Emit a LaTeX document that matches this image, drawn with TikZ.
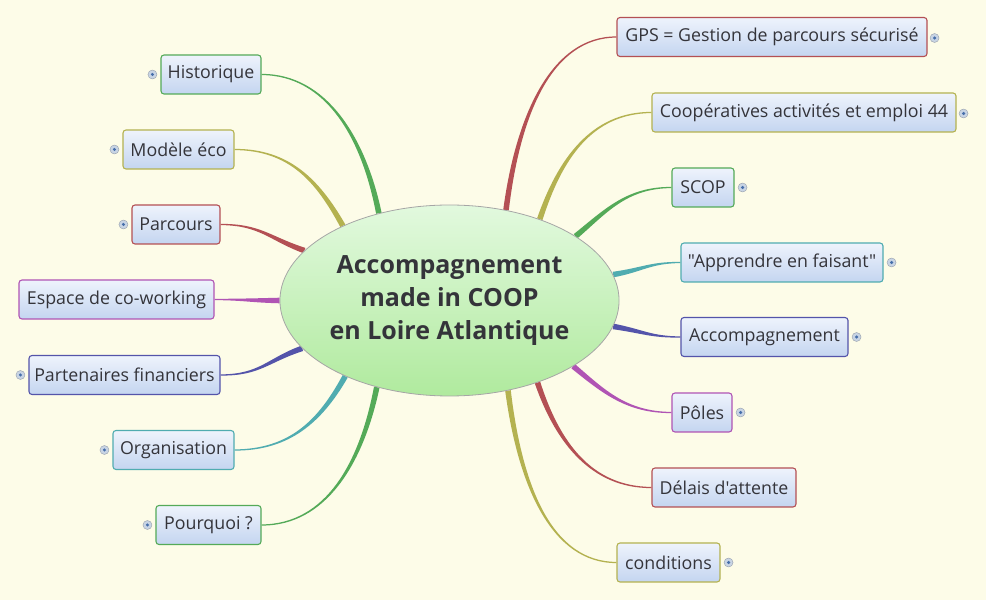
\documentclass[tikz,border=0pt]{standalone}
\usepackage{fontspec}
\setmainfont{Open Sans}
\newfontfamily\topicfont{Open Sans}
\usetikzlibrary{shapes.geometric,calc}
\pgfdeclarelayer{background}
\pgfsetlayers{background,main}
\definecolor{bg}{RGB}{253,252,232}
\definecolor{txt}{RGB}{52,52,58}
\definecolor{boxtop}{RGB}{238,243,252}
\definecolor{boxbot}{RGB}{196,213,240}
\definecolor{cgreen}{RGB}{84,170,88}
\definecolor{colive}{RGB}{180,178,80}
\definecolor{cred}{RGB}{180,80,84}
\definecolor{cmag}{RGB}{176,84,180}
\definecolor{cblue}{RGB}{84,84,170}
\definecolor{cteal}{RGB}{80,172,176}
\definecolor{elltop}{RGB}{226,249,222}
\definecolor{ellbot}{RGB}{176,234,158}
\definecolor{plusfill}{RGB}{200,212,228}
\definecolor{plusdot}{RGB}{70,110,170}
\newcommand\branch[5]{%
  \coordinate (S) at #2; \coordinate (E) at #3;
  \coordinate (A) at ($(S)+#4$); \coordinate (B) at ($(E)+#5$);
  \fill[#1] ($(S)!2.8pt!90:(A)$) .. controls ($(A)!2pt!-90:(S)$) and ($(B)!0.9pt!90:(E)$) .. ($(E)!0.6pt!-90:(B)$)
    -- ($(E)!0.6pt!90:(B)$) .. controls ($(B)!0.9pt!-90:(E)$) and ($(A)!2pt!90:(S)$) .. ($(S)!2.8pt!-90:(A)$) -- cycle;}
\tikzset{
  topic/.style={draw=#1, line width=1.1pt, rounded corners=3pt, top color=boxtop, bottom color=boxbot,
    minimum height=39pt, inner sep=0pt, text=txt, font=\topicfont\fontsize{17.8}{20}\selectfont},
  plusicon/.style={circle, draw=plusfill!75!black, fill=plusfill, minimum size=9pt, inner sep=0pt,
    path picture={\fill[plusdot] (path picture bounding box.center) circle (1.7pt);}},
}
\begin{document}
\begin{tikzpicture}[x=1pt,y=1pt]
\begin{pgfonlayer}{background}
\fill[bg] (0,0) rectangle (986,600);
\end{pgfonlayer}
\useasboundingbox (0,0) rectangle (986,600);
% central
\node[ellipse, draw=black!35, line width=0.8pt, top color=elltop, bottom color=ellbot,
  minimum width=335pt, minimum height=191pt, inner sep=0pt, align=center, text=txt,
  font=\topicfont\fontsize{25}{33}\selectfont\bfseries] (c) at (449.5,299.5)
  {Accompagnement\\made in COOP\\en Loire Atlantique};
% left topics
\node[topic=cgreen, minimum width=100pt] (hist) at (211,525.5) {Historique};
\node[topic=colive, minimum width=111pt] (mod) at (178.5,450.5) {Modèle éco};
\node[topic=cred, minimum width=88pt] (parc) at (176,375.5) {Parcours};
\node[topic=cmag, minimum width=195pt] (esp) at (116.5,300.5) {Espace de co-working};
\node[topic=cblue, minimum width=191pt] (part) at (124.5,225) {Partenaires financiers};
\node[topic=cteal, minimum width=121pt] (org) at (173.5,150) {Organisation};
\node[topic=cgreen, minimum width=105pt] (pq) at (208.5,75) {Pourquoi ?};
% right topics
\node[topic=cred, minimum width=310pt] (gps) at (772,563) {GPS = Gestion de parcours sécurisé};
\node[topic=colive, minimum width=304pt] (coop) at (804,487.5) {Coopératives activités et emploi 44};
\node[topic=cgreen, minimum width=62pt] (scop) at (703,412.5) {SCOP};
\node[topic=cteal, minimum width=202pt] (app) at (782,337.5) {"Apprendre en faisant"};
\node[topic=cblue, minimum width=167pt] (acc) at (764.5,263) {Accompagnement};
\node[topic=cmag, minimum width=60pt] (pol) at (702,187.5) {Pôles};
\node[topic=cred, minimum width=144pt] (del) at (724,112.5) {Délais d'attente};
\node[topic=colive, minimum width=103pt] (cond) at (668.5,37.5) {conditions};
% plus icons
\node[plusicon] (p1) at ($(hist.west)+(-8,0)$) {};
\node[plusicon] (p2) at ($(mod.west)+(-8,0)$) {};
\node[plusicon] (p3) at ($(parc.west)+(-8,0)$) {};
\node[plusicon] (p4) at ($(part.west)+(-8,0)$) {};
\node[plusicon] (p5) at ($(org.west)+(-8,0)$) {};
\node[plusicon] (p6) at ($(pq.west)+(-8,0)$) {};
\node[plusicon] (p7) at ($(gps.east)+(7,-1)$) {};
\node[plusicon] (p8) at ($(coop.east)+(7,-1)$) {};
\node[plusicon] (p9) at ($(scop.east)+(8,0)$) {};
\node[plusicon] (p10) at ($(app.east)+(8,0)$) {};
\node[plusicon] (p11) at ($(acc.east)+(8,0)$) {};
\node[plusicon] (p12) at ($(pol.east)+(8,0)$) {};
\node[plusicon] (p13) at ($(cond.east)+(8,0)$) {};
% branches
\begin{pgfonlayer}{background}
\branch{cgreen}{(c.129)}{(hist.east)}{(-15,75)}{(65,0)}
\branch{colive}{(c.145)}{(mod.east)}{(-25,45)}{(55,0)}
\branch{cred}{(c.161)}{(parc.east)}{(-35,12)}{(40,0)}
\branch{cmag}{(c.180)}{(esp.east)}{(-30,0)}{(30,0)}
\branch{cblue}{(c.198)}{(part.east)}{(-35,-12)}{(40,0)}
\branch{cteal}{(c.216)}{(org.east)}{(-25,-45)}{(55,0)}
\branch{cgreen}{(c.230)}{(pq.east)}{(-15,-75)}{(65,0)}
\branch{cred}{(c.58)}{(gps.west)}{(12,95)}{(-65,0)}
\branch{colive}{(c.42)}{(coop.west)}{(20,60)}{(-60,0)}
\branch{cgreen}{(c.27)}{(scop.west)}{(30,25)}{(-45,0)}
\branch{cteal}{(c.9.5)}{(app.west)}{(30,5)}{(-30,0)}
\branch{cblue}{(c.351)}{(acc.west)}{(30,-5)}{(-30,0)}
\branch{cmag}{(c.332)}{(pol.west)}{(30,-25)}{(-45,0)}
\branch{cred}{(c.317)}{(del.west)}{(20,-60)}{(-60,0)}
\branch{colive}{(c.303)}{(cond.west)}{(12,-95)}{(-65,0)}
\end{pgfonlayer}
\end{tikzpicture}
\end{document}
